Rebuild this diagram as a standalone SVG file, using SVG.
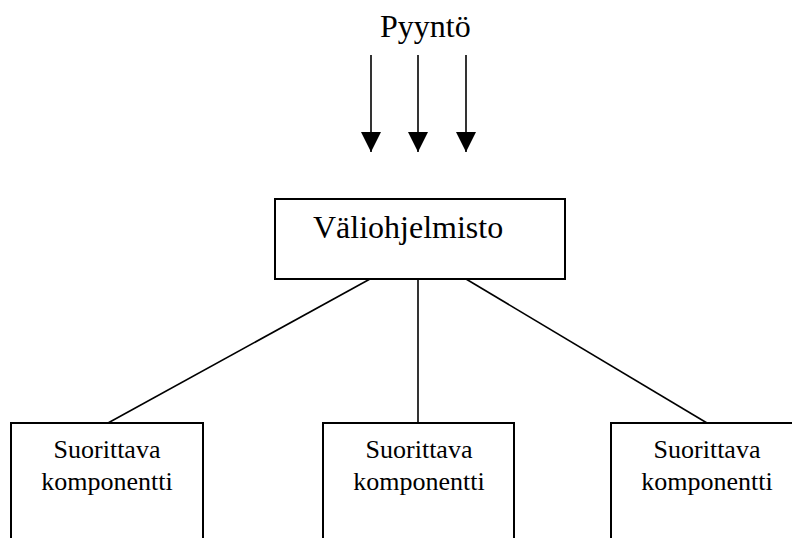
<svg xmlns="http://www.w3.org/2000/svg" width="792" height="538" viewBox="0 0 792 538">
  <style>
    .box { fill: #fff; stroke: #000; stroke-width: 2; }
    text { font-family: 'Liberation Serif', 'Times New Roman', serif; fill: #000; }
    .big { font-size: 32px; }
    .small { font-size: 26px; text-anchor: middle; }
    .wire { stroke: #000; stroke-width: 1.6; fill: none; }
  </style>
  <defs>
    <marker id="head" viewBox="0 0 20 20" refX="20" refY="10" markerWidth="20" markerHeight="20" markerUnits="userSpaceOnUse" orient="auto">
      <path d="M0,0 L20,10 L0,20 Z" fill="#000"/>
    </marker>
  </defs>

  <g id="request">
    <text class="big" x="380" y="37">Pyyntö</text>
  </g>

  <g id="connectors">
    <line class="wire" x1="371" y1="55" x2="371" y2="152" marker-end="url(#head)"/>
    <line class="wire" x1="418" y1="55" x2="418" y2="152" marker-end="url(#head)"/>
    <line class="wire" x1="466" y1="55" x2="466" y2="152" marker-end="url(#head)"/>
    <line class="wire" x1="370" y1="279" x2="108" y2="423"/>
    <line class="wire" x1="418" y1="279" x2="418" y2="423"/>
    <line class="wire" x1="466" y1="279" x2="707" y2="423"/>
  </g>

  <g id="middleware">
    <rect class="box" x="275" y="199" width="290" height="80"/>
    <text class="big" x="313" y="238">Väliohjelmisto</text>
  </g>

  <g id="component-left">
    <rect class="box" x="11" y="423" width="192" height="130"/>
    <text class="small" x="107" y="458">Suorittava</text>
    <text class="small" x="107" y="490">komponentti</text>
  </g>

  <g id="component-middle">
    <rect class="box" x="323" y="423" width="191" height="130"/>
    <text class="small" x="419" y="458">Suorittava</text>
    <text class="small" x="419" y="490">komponentti</text>
  </g>

  <g id="component-right">
    <rect class="box" x="611" y="423" width="200" height="130"/>
    <text class="small" x="707" y="458">Suorittava</text>
    <text class="small" x="707" y="490">komponentti</text>
  </g>
</svg>
